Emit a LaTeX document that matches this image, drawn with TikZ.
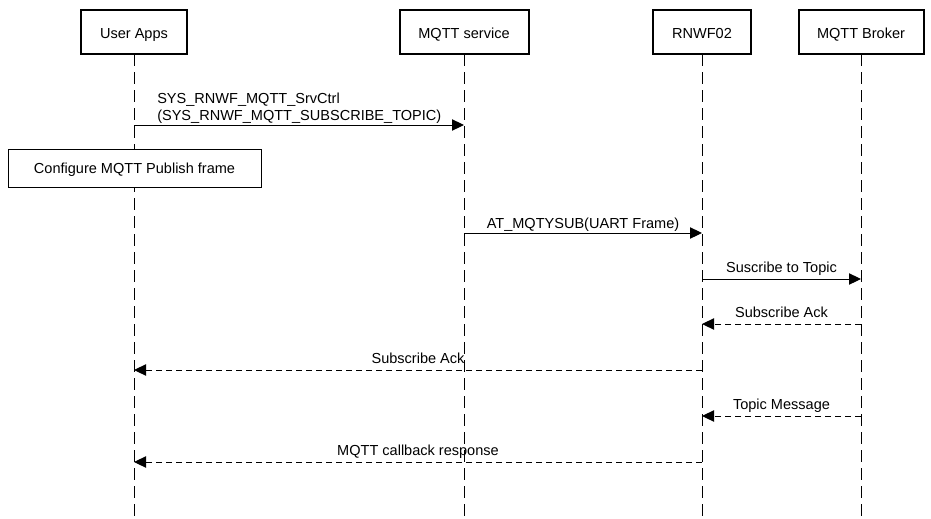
\documentclass[tikz,border=0pt]{standalone}
\usepackage{fontspec}
\setmainfont{Liberation Sans}
\usetikzlibrary{arrows.meta}
\begin{document}
\begin{tikzpicture}[x=0.75pt,y=-0.75pt,
  font=\fontsize{10.9pt}{12.75pt}\selectfont,
  actor/.style={draw,line width=1.5pt,fill=white,minimum height=33pt,inner sep=0pt,text height=10.5pt,text depth=0.4pt},
  lifeline/.style={line width=0.75pt,dash pattern=on 9pt off 4.5pt},
  msg/.style={line width=0.75pt,-{Triangle[length=9pt,width=8.5pt]}},
  reply/.style={msg,dash pattern=on 4.5pt off 3pt},
  lbl/.style={anchor=base,inner sep=0pt,yshift=5.25pt},
  notebox/.style={draw,line width=0.75pt,fill=white,minimum width=189.75pt,minimum height=28.5pt,inner sep=0pt,text height=10pt,text depth=1.4pt}]
\useasboundingbox (0,0) rectangle (931,518);
% lifeline ends
\coordinate (uaE) at (134,518);
\coordinate (msE) at (464,518);
\coordinate (rnE) at (702,518);
\coordinate (mbE) at (861,518);
% lifelines
\draw[lifeline] (134,54) -- (uaE);
\draw[lifeline] (464,54) -- (msE);
\draw[lifeline] (702,54) -- (rnE);
\draw[lifeline] (861,54) -- (mbE);
% actors
\node[actor,minimum width=79.5pt] (ua) at (134,32) {User Apps};
\node[actor,minimum width=96.75pt] (ms) at (464,32) {MQTT service};
\node[actor,minimum width=73.5pt] (rn) at (702,32) {RNWF02};
\node[actor,minimum width=93.75pt] (mb) at (861,32) {MQTT Broker};
% message 1
\draw[msg] (ua |- 0,125) -- (ms |- 0,125);
\node[anchor=south west,align=left,inner sep=0pt] (l1) at (157,123.5)
  {SYS\_RNWF\_MQTT\_SrvCtrl\\(SYS\_RNWF\_MQTT\_SUBSCRIBE\_TOPIC)};
% note box
\node[notebox] (cfg) at (134.5,168) {Configure MQTT Publish frame};
% message 2
\draw[msg] (ms |- 0,233) -- node[lbl,yshift=-1.5pt] {AT\_MQTYSUB(UART Frame)} (rn |- 0,233);
% message 3
\draw[msg] (rn |- 0,279) -- node[lbl] {Suscribe to Topic} (mb |- 0,279);
% message 4
\draw[reply] (mb |- 0,324) -- node[lbl] {Subscribe Ack} (rn |- 0,324);
% message 5
\draw[reply] (rn |- 0,370) -- node[lbl] {Subscribe Ack} (ua |- 0,370);
% message 6
\draw[reply] (mb |- 0,416) -- node[lbl] {Topic Message} (rn |- 0,416);
% message 7
\draw[reply] (rn |- 0,462) -- node[lbl] {MQTT callback response} (ua |- 0,462);
\end{tikzpicture}
\end{document}
